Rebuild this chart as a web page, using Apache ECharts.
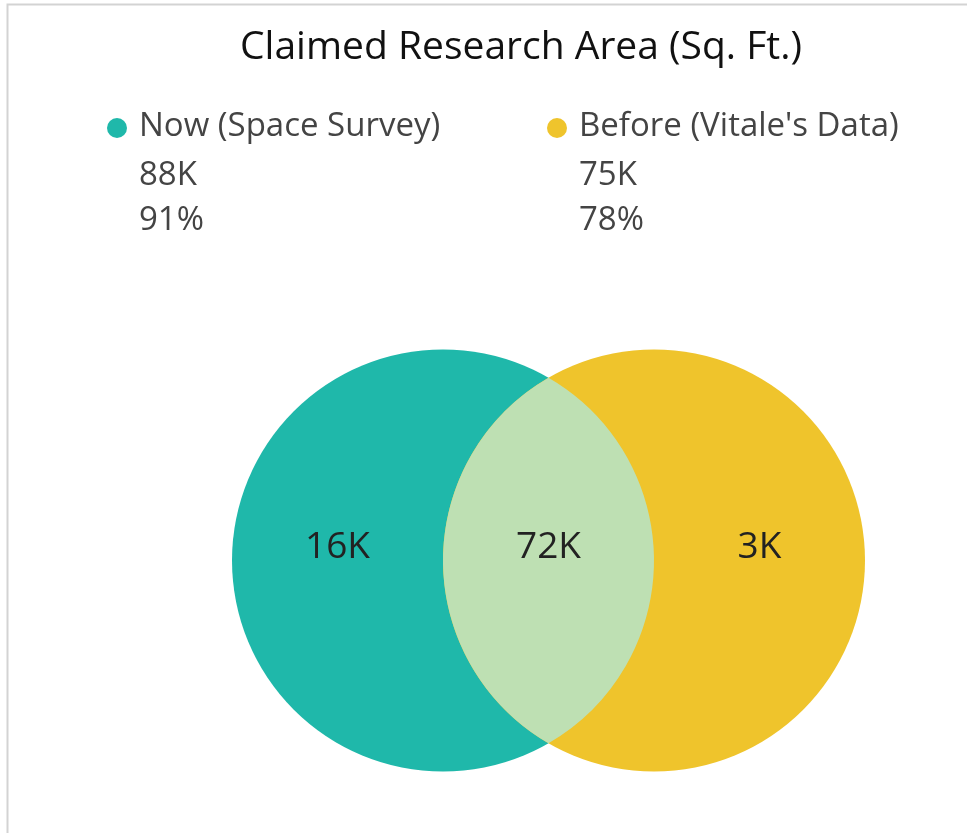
<!DOCTYPE html>
<html>
<head>
<meta charset="utf-8">
<script src="https://cdn.jsdelivr.net/npm/echarts@6/dist/echarts.min.js"></script>
<style>
  html, body { margin: 0; padding: 0; background: #fff; }
  #main { width: 967px; height: 833px; }
</style>
</head>
<body>
<div id="main"></div>
<script>
// sets shown in the legend
const setNames = ['Now (Space Survey)', "Before (Vitale's Data)"];
const setTotals = ['88K', '75K'];
const setShares = ['91%', '78%'];
const setColors = ['#1FB8AA', '#EFC42C'];
const overlapColor = '#BEE0B3';

// venn regions: only now, both, only before (thousand sq ft)
const regionNames = ['Now only', 'Both', 'Before only'];
const regionValues = [16, 72, 3];

const FONT = '"Open Sans", "Noto Sans", sans-serif';

const chart = echarts.init(document.getElementById('main'), null, { renderer: 'canvas' });

// legend blocks (dot + name, total, share)
const legendX = [117, 557];
const legendGraphics = [];
setNames.forEach(function (name, i) {
  legendGraphics.push({
    type: 'circle',
    shape: { cx: legendX[i], cy: 128, r: 10 },
    style: { fill: setColors[i] }
  });
  [name, setTotals[i], setShares[i]].forEach(function (t, j) {
    legendGraphics.push({
      type: 'text',
      x: legendX[i] + 22,
      y: [127, 176, 221][j],
      style: {
        text: t,
        font: '33px ' + FONT,
        fill: '#444',
        textVerticalAlign: 'middle'
      }
    });
  });
});

const option = {
  backgroundColor: '#fff',
  animation: false,
  graphic: [
    {
      type: 'rect',
      shape: { x: 7.5, y: 4.5, width: 1000, height: 1000 },
      style: { fill: 'none', stroke: '#d3d3d3', lineWidth: 2 },
      silent: true
    },
    {
      type: 'text',
      x: 521,
      y: 48,
      style: {
        text: 'Claimed Research Area (Sq. Ft.)',
        font: '39px ' + FONT,
        fill: '#111',
        textAlign: 'center',
        textVerticalAlign: 'middle'
      }
    }
  ].concat(legendGraphics),
  grid: { left: 232, top: 349.5, width: 633, height: 422 },
  xAxis: { type: 'value', min: -1.5, max: 1.5, show: false },
  yAxis: { type: 'value', min: -1, max: 1, show: false },
  series: [{
    type: 'custom',
    coordinateSystem: 'cartesian2d',
    data: regionValues.map(function (v, i) {
      return { name: regionNames[i], value: [i - 1, 0, v] };
    }),
    renderItem: function (params, api) {
      const i = params.dataIndex;
      const unit = api.size([1, 1]);
      const r = unit[0];
      const cL = api.coord([-0.5, 0]);
      const cR = api.coord([0.5, 0]);
      const lab = api.coord([api.value(0), 0.06]);
      const children = [];
      if (i === 1) {
        // lens = intersection of the two circles
        const h = Math.sqrt(r * r - Math.pow((cR[0] - cL[0]) / 2, 2));
        const mx = (cL[0] + cR[0]) / 2;
        const top = [mx, cL[1] - h];
        const bot = [mx, cL[1] + h];
        children.push({
          type: 'path',
          z2: 2,
          shape: {
            pathData: 'M' + top[0] + ' ' + top[1] +
              ' A' + r + ' ' + r + ' 0 0 1 ' + bot[0] + ' ' + bot[1] +
              ' A' + r + ' ' + r + ' 0 0 1 ' + top[0] + ' ' + top[1] + ' Z'
          },
          style: { fill: overlapColor }
        });
      } else {
        const c = i === 0 ? cL : cR;
        children.push({
          type: 'circle',
          z2: 1,
          shape: { cx: c[0], cy: c[1], r: r },
          style: { fill: setColors[i === 0 ? 0 : 1] }
        });
      }
      children.push({
        type: 'text',
        z2: 5,
        x: lab[0],
        y: lab[1],
        style: {
          text: api.value(2) + 'K',
          font: '37px ' + FONT,
          fill: '#222',
          textAlign: 'center',
          textVerticalAlign: 'middle'
        }
      });
      return { type: 'group', children: children };
    }
  }]
};

chart.setOption(option);
</script>
</body>
</html>
